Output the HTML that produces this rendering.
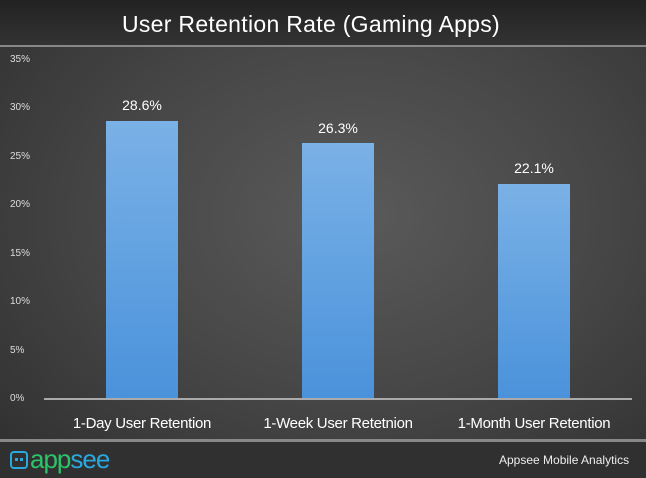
<!DOCTYPE html>
<html><head><meta charset="utf-8"><style>
body{margin:0;width:646px;height:478px;overflow:hidden;font-family:"Liberation Sans",sans-serif;}
#w{position:relative;width:646px;height:478px;background:radial-gradient(ellipse at 55% 45%,#5a5a5a 0%,#464646 50%,#2e2e2e 100%);}
.t{position:absolute;color:#fff;}
.y{position:absolute;left:10px;width:24px;font-size:10px;color:#ddd;text-align:left}
.bar{position:absolute;width:72px;background:linear-gradient(#7ab1e6,#4a92db);bottom:79px}
.v{position:absolute;width:120px;text-align:center;color:#fff;font-size:14px}
.x{position:absolute;top:415px;width:200px;text-align:center;color:#fff;font-size:15px;letter-spacing:-0.3px}
</style></head><body><div id="w">
<div style="position:absolute;left:0;top:0;width:646px;height:45px;background:linear-gradient(#222,#333)"></div>
<div style="position:absolute;left:0;top:45px;width:646px;height:2px;background:#888"></div>
<div class="t" style="left:0;width:622px;top:11px;text-align:center;font-size:23px;letter-spacing:0.3px">User Retention Rate (Gaming Apps)</div>
<div class="y" style="top:54px">35%</div>
<div class="y" style="top:102px">30%</div>
<div class="y" style="top:151px">25%</div>
<div class="y" style="top:199px">20%</div>
<div class="y" style="top:248px">15%</div>
<div class="y" style="top:296px">10%</div>
<div class="y" style="top:345px">5%</div>
<div class="y" style="top:393px">0%</div>
<div class="bar" style="left:106px;height:278px"></div>
<div class="bar" style="left:302px;height:256px"></div>
<div class="bar" style="left:498px;height:215px"></div>
<div class="v" style="left:82px;top:97px">28.6%</div>
<div class="v" style="left:278px;top:120px">26.3%</div>
<div class="v" style="left:474px;top:160px">22.1%</div>
<div style="position:absolute;left:44px;top:398px;width:588px;height:2px;background:#aaa"></div>
<div class="x" style="left:42px">1-Day User Retention</div>
<div class="x" style="left:238px">1-Week User Retetnion</div>
<div class="x" style="left:434px">1-Month User Retention</div>
<div style="position:absolute;left:0;top:439px;width:646px;height:3px;background:#888"></div>
<div style="position:absolute;left:0;top:442px;width:646px;height:36px;background:#303030"></div>
<div style="position:absolute;left:10px;top:451px;width:14px;height:14px;border:2px solid #29a8e0;border-radius:4px"></div>
<div style="position:absolute;left:15px;top:458px;width:3px;height:3px;background:#29a8e0"></div>
<div style="position:absolute;left:20px;top:458px;width:3px;height:3px;background:#29a8e0"></div>
<div class="t" style="left:30px;top:444px;font-size:26px;color:#2bc46a;letter-spacing:-1px">app<span style="color:#29a8e0">see</span></div>
<div class="t" style="left:499px;top:453px;font-size:12px;color:#eee">Appsee Mobile Analytics</div>
</div></body></html>
